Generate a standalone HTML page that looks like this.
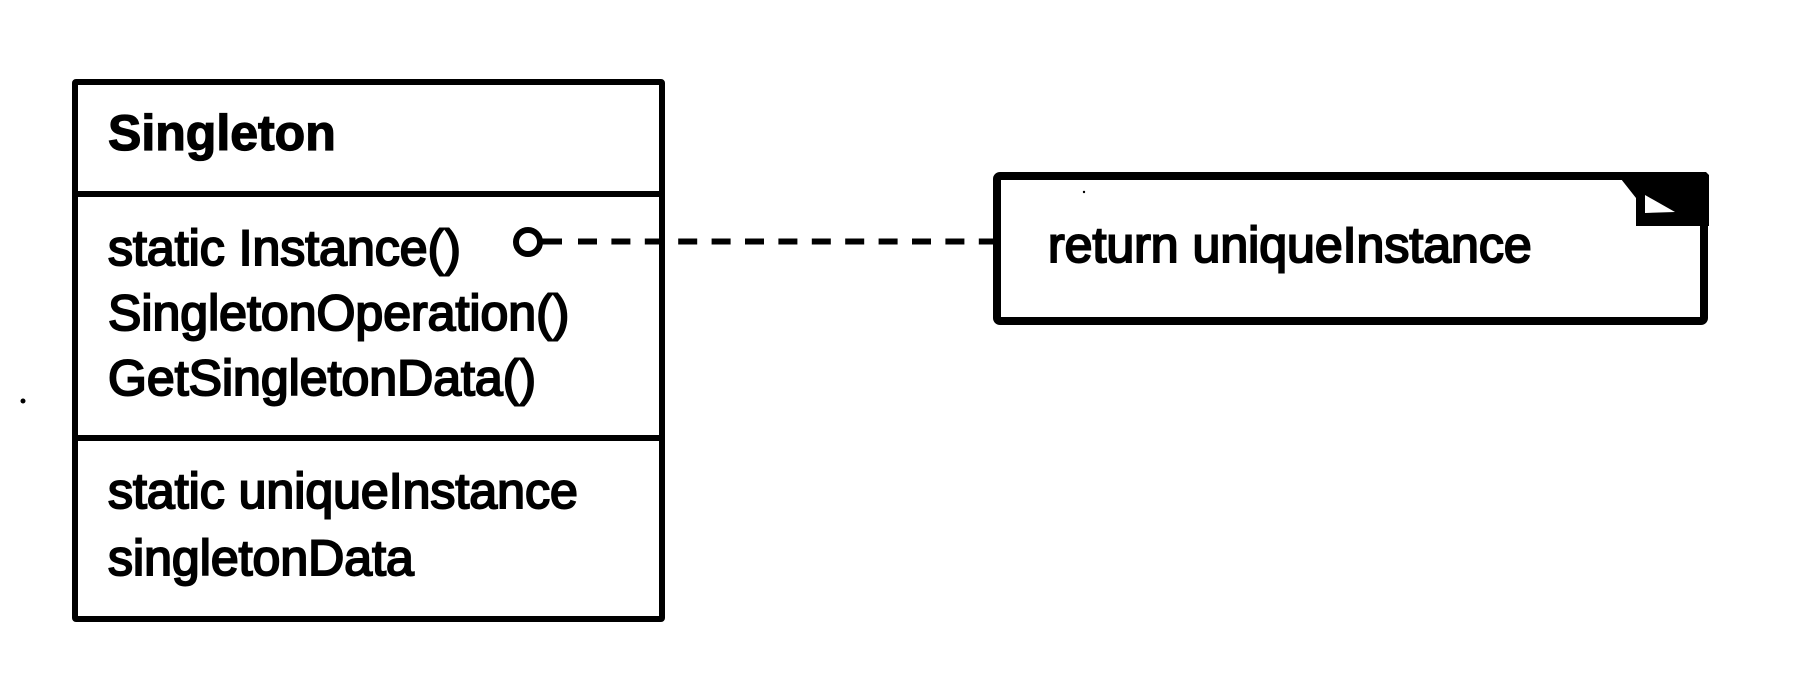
<!DOCTYPE html>
<html>
<head>
<meta charset="utf-8">
<style>
  html, body { margin: 0; padding: 0; background: #ffffff; }
  body { width: 1799px; height: 698px; overflow: hidden; position: relative; }
  svg { position: absolute; left: 0; top: 0; }
  .t { font-family: "Liberation Sans", Arial, sans-serif; font-size: 50px; fill: #000; stroke: #000; stroke-width: 2px; }
  .b { font-weight: bold; stroke-width: 1.3px; }
</style>
</head>
<body>
<svg width="1799" height="698" viewBox="0 0 1799 698" xmlns="http://www.w3.org/2000/svg">
  <!-- Class box -->
  <rect x="75" y="82" width="587" height="537" fill="#fff" stroke="#000" stroke-width="6" rx="1"/>
  <line x1="75" y1="194" x2="662" y2="194" stroke="#000" stroke-width="6"/>
  <line x1="75" y1="438" x2="662" y2="438" stroke="#000" stroke-width="6"/>

  <text class="t b" x="108" y="150">Singleton</text>
  <text class="t" x="108" y="265">static Instance()</text>
  <text class="t" x="108" y="330">SingletonOperation()</text>
  <text class="t" x="108" y="395">GetSingletonData()</text>
  <text class="t" x="108" y="508">static uniqueInstance</text>
  <text class="t" x="108" y="575">singletonData</text>

  <!-- stray dot -->
  <circle cx="23" cy="401" r="2.5" fill="#000"/>

  <!-- connector: circle + dashed line -->
  <circle cx="528" cy="242" r="12" fill="#fff" stroke="#000" stroke-width="6"/>
  <line x1="540" y1="241.5" x2="562" y2="241.5" stroke="#000" stroke-width="6"/>
  <line x1="578" y1="241.5" x2="995" y2="241.5" stroke="#000" stroke-width="6" stroke-dasharray="19 14.4"/>

  <!-- Note -->
  <rect x="997" y="176" width="707" height="145" fill="#fff" stroke="#000" stroke-width="8" rx="3"/>
  <polygon points="1616,172 1706,172 1709,175 1709,226 1636,226 1636,198 1621,179 1616,179" fill="#000"/>
  <polygon points="1645,195 1645,213 1675,212" fill="#fff"/>
  <circle cx="1084" cy="192" r="1.2" fill="#000"/>
  <text class="t" x="1048" y="262">return uniqueInstance</text>
</svg>
</body>
</html>
